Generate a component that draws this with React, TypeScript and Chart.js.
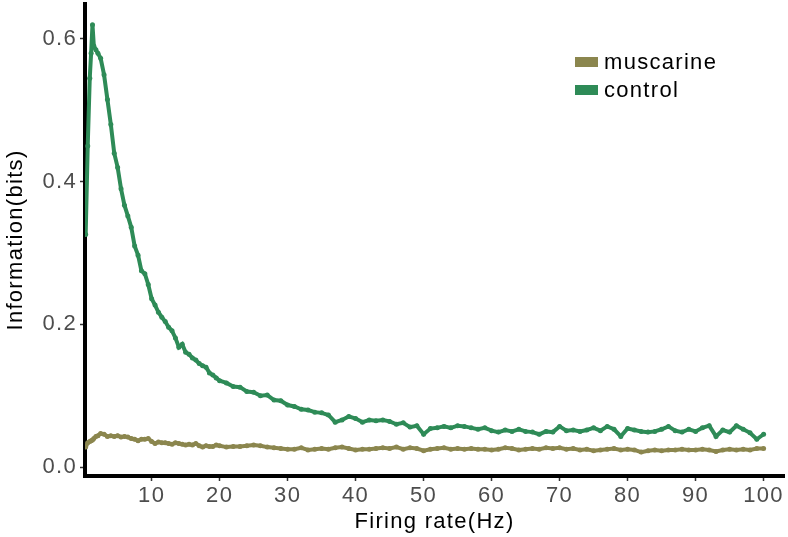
import React, { useEffect, useRef } from "react";
import { Chart, registerables } from "chart.js";
Chart.register(...registerables);

const freq = [
  0.3, 0.6, 0.9, 1.1, 1.3, 1.5, 1.8, 2.1, 2.5,
  3, 3.5, 4, 4.5, 5, 5.5, 6, 6.5, 7, 7.5, 8, 8.5, 9, 9.5, 10, 10.5, 11, 11.5, 12, 12.5,
  13, 13.5, 14, 14.5, 15, 15.5, 16, 16.5, 17, 17.5, 18, 18.5, 19, 19.5, 20,
  21, 22, 23, 24, 25, 26, 27, 28, 29, 30, 31, 32, 33, 34, 35, 36, 37, 38, 39, 40,
  41, 42, 43, 44, 45, 46, 47, 48, 49, 50, 51, 52, 53, 54, 55, 56, 57, 58, 59, 60,
  61, 62, 63, 64, 65, 66, 67, 68, 69, 70, 71, 72, 73, 74, 75, 76, 77, 78, 79, 80,
  81, 82, 83, 84, 85, 86, 87, 88, 89, 90, 91, 92, 93, 94, 95, 96, 97, 98, 99, 100,
];

const control = [
  0.326, 0.45, 0.545, 0.58, 0.62, 0.59, 0.585, 0.58, 0.573,
  0.55, 0.515, 0.48, 0.44, 0.42, 0.39, 0.367, 0.352, 0.336, 0.31, 0.297, 0.275, 0.271, 0.256, 0.236, 0.227, 0.217, 0.21, 0.204, 0.196,
  0.191, 0.181, 0.168, 0.172, 0.161, 0.158, 0.153, 0.15, 0.145, 0.142, 0.14, 0.132, 0.129, 0.125, 0.121,
  0.118, 0.113, 0.112, 0.106, 0.105, 0.1, 0.101, 0.094, 0.093, 0.087, 0.085, 0.081, 0.08, 0.077, 0.076, 0.073, 0.063, 0.066, 0.071, 0.068,
  0.063, 0.066, 0.065, 0.066, 0.064, 0.06, 0.062, 0.056, 0.058, 0.046, 0.054, 0.055, 0.057, 0.055, 0.058, 0.057, 0.055, 0.053, 0.055, 0.051,
  0.049, 0.052, 0.05, 0.053, 0.05, 0.049, 0.046, 0.05, 0.049, 0.057, 0.051, 0.052, 0.05, 0.052, 0.055, 0.051, 0.057, 0.053, 0.043, 0.054,
  0.052, 0.05, 0.049, 0.05, 0.053, 0.057, 0.051, 0.049, 0.053, 0.05, 0.055, 0.058, 0.043, 0.052, 0.049, 0.058, 0.053, 0.048, 0.039, 0.046,
];

const muscarine = [
  0.028, 0.034, 0.036, 0.037, 0.038, 0.04, 0.043, 0.044, 0.047,
  0.046, 0.043, 0.044, 0.043, 0.044, 0.042, 0.043, 0.042, 0.04, 0.039, 0.037, 0.039, 0.039, 0.04, 0.036, 0.033, 0.035, 0.034, 0.034, 0.033,
  0.032, 0.034, 0.033, 0.032, 0.031, 0.032, 0.031, 0.033, 0.03, 0.028, 0.03, 0.029, 0.029, 0.031, 0.03,
  0.028, 0.029, 0.029, 0.03, 0.031, 0.03, 0.028, 0.027, 0.026, 0.025, 0.025, 0.027, 0.024, 0.025, 0.026, 0.025, 0.027, 0.028, 0.026, 0.024,
  0.025, 0.025, 0.026, 0.027, 0.026, 0.028, 0.025, 0.027, 0.026, 0.023, 0.025, 0.026, 0.027, 0.025, 0.026, 0.025, 0.026, 0.025, 0.025, 0.024,
  0.025, 0.027, 0.026, 0.024, 0.025, 0.026, 0.025, 0.027, 0.026, 0.027, 0.025, 0.026, 0.024, 0.025, 0.023, 0.024, 0.025, 0.026, 0.024, 0.025,
  0.024, 0.021, 0.023, 0.024, 0.023, 0.024, 0.024, 0.025, 0.024, 0.024, 0.025, 0.024, 0.022, 0.024, 0.025, 0.024, 0.025, 0.024, 0.026, 0.026,
];

const seriesNames = ["muscarine", "control"];
const seriesColors = ["#8B864E", "#2E8B57"];
const yTicks = [0, 0.2, 0.4, 0.6];
const xTicks = [10, 20, 30, 40, 50, 60, 70, 80, 90, 100];
const xTitle = "Firing rate(Hz)";
const yTitle = "Information(bits)";

const FONT = "'Liberation Sans', Arial, Helvetica, sans-serif";
const SPACING = "1.3px";

const spacingPlugin = {
  id: "letterSpacing",
  beforeInit(chart: any) { chart.ctx.letterSpacing = SPACING; },
  beforeLayout(chart: any) { chart.ctx.letterSpacing = SPACING; },
  beforeDraw(chart: any) { chart.ctx.letterSpacing = SPACING; },
};

const legendPlugin = {
  id: "customLegend",
  afterDraw(chart: any) {
    const ctx = chart.ctx;
    ctx.save();
    ctx.letterSpacing = SPACING;
    ctx.font = `22px ${FONT}`;
    ctx.textBaseline = "middle";
    ctx.textAlign = "left";
    chart.data.datasets.forEach((ds: any, i: number) => {
      const y = 62 + i * 28;
      ctx.fillStyle = ds.borderColor;
      ctx.fillRect(575, y - 5, 23, 10);
      ctx.fillStyle = "#000";
      ctx.fillText(ds.label, 604, y + 1);
    });
    ctx.restore();
  },
};

export default function App() {
  const ref = useRef<HTMLCanvasElement | null>(null);
  useEffect(() => {
    document.body.style.margin = "0";
    if (!ref.current) return;
    const series = [muscarine, control];
    const chart = new Chart(ref.current, {
      type: "line",
      data: {
        datasets: series.map((vals, si) => ({
          label: seriesNames[si],
          data: freq.map((x, i) => ({ x, y: vals[i] })),
          borderColor: seriesColors[si],
          backgroundColor: seriesColors[si],
          borderWidth: 4,
          pointRadius: 2.5,
          pointBorderWidth: 0,
          tension: 0,
          fill: false,
        })),
      },
      options: {
        responsive: false,
        animation: false,
        events: [],
        layout: { padding: 0 },
        plugins: { legend: { display: false }, tooltip: { enabled: false } },
        scales: {
          x: {
            type: "linear",
            min: 0.2,
            max: 103,
            afterFit: (s: any) => { s.height = 61; s.paddingLeft = 0; s.paddingRight = 0; },
            afterBuildTicks: (s: any) => { s.ticks = xTicks.map((v) => ({ value: v })); },
            ticks: {
              color: "#4D4D4D",
              font: { size: 22, family: FONT },
              padding: 2,
              maxRotation: 0,
              autoSkip: false,
              callback: (v: any) => String(v),
            },
            grid: { drawOnChartArea: false, drawTicks: true, tickLength: 5, tickColor: "#333", tickWidth: 1.5 },
            border: { display: true, color: "#000", width: 4 },
            title: { display: true, text: xTitle, color: "#000", font: { size: 22, family: FONT }, padding: { top: 2, bottom: 2 } },
          },
          y: {
            type: "linear",
            min: -0.0125,
            max: 0.649,
            afterFit: (s: any) => { s.width = 85; s.paddingTop = 0; s.paddingBottom = 0; },
            afterBuildTicks: (s: any) => { s.ticks = yTicks.map((v) => ({ value: v })); },
            ticks: {
              color: "#4D4D4D",
              font: { size: 22, family: FONT },
              padding: 3,
              callback: (v: any) => Number(v).toFixed(1),
            },
            grid: { drawOnChartArea: false, drawTicks: true, tickLength: 5, tickColor: "#333", tickWidth: 1.5 },
            border: { display: true, color: "#000", width: 4 },
            title: { display: true, text: yTitle, color: "#000", font: { size: 22, family: FONT }, padding: { top: 3, bottom: 2 } },
          },
        },
      },
      plugins: [spacingPlugin, legendPlugin],
    } as any);
    return () => chart.destroy();
  }, []);
  return (
    <div style={{ position: "absolute", left: 0, top: 0, width: 788, height: 537, background: "#fff" }}>
      <canvas ref={ref} width={788} height={537} />
    </div>
  );
}
